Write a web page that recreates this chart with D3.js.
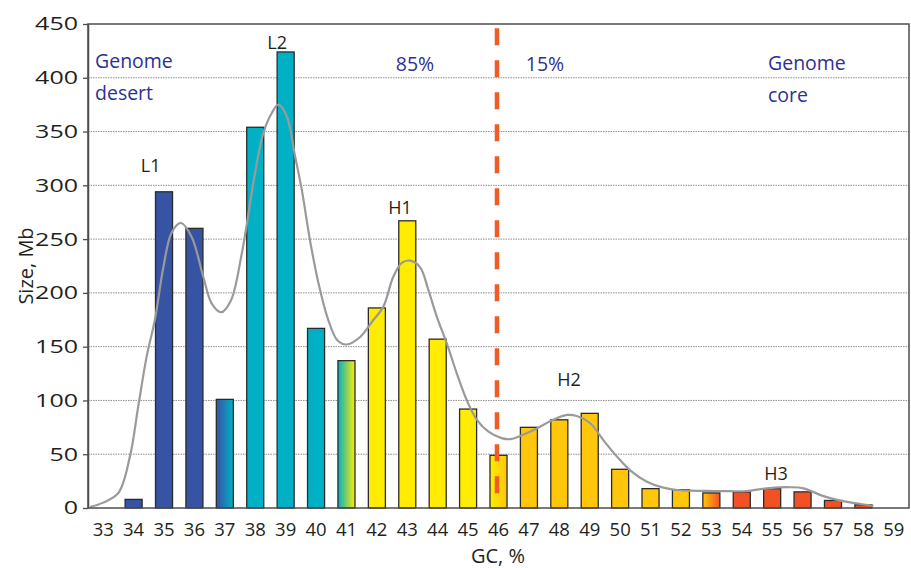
<!DOCTYPE html>
<html>
<head>
<meta charset="utf-8">
<script src="https://cdn.jsdelivr.net/npm/d3@7"></script>
<style>
  html, body { margin: 0; padding: 0; background: #fff; }
  svg { display: block; font-family: "Open Sans", "Noto Sans", sans-serif; }
</style>
</head>
<body>
<svg id="chart" width="911" height="568"></svg>
<script>
// GC content classes (%) along the x axis
const gcClasses = [33, 34, 35, 36, 37, 38, 39, 40, 41, 42, 43, 44, 45, 46,
                   47, 48, 49, 50, 51, 52, 53, 54, 55, 56, 57, 58, 59];
// Genome size in each GC class (Mb)
const sizeMb = [0, 8, 294, 260, 101, 354, 424, 167, 137, 186, 267, 157, 92, 49,
                75, 82, 88, 36, 18, 17, 14, 15, 18, 15, 7, 3, 0];
// Isochore family of each class ("A>B" marks a transition class)
const family = ["", "L1", "L1", "L1", "L1>L2", "L2", "L2", "L2", "L2>H1", "H1", "H1", "H1", "H1", "H1>H2",
                "H2", "H2", "H2", "H2", "H2", "H2", "H2>H3", "H3", "H3", "H3", "H3", "H3", ""];

// Smoothed distribution profile (GC %, Mb)
const curveGC = [32.57, 33.0, 33.5, 33.88, 34.15, 34.43, 34.7, 34.98, 35.25, 35.56, 35.91, 36.29, 36.57, 36.88,
                 37.2, 37.56, 37.99, 38.27, 38.54, 38.76, 39.04, 39.31, 39.53, 39.8, 40.08, 40.4, 40.7, 41.0,
                 41.45, 41.89, 42.21, 42.54, 42.82, 43.09, 43.42, 43.69, 43.97, 44.3, 44.63, 44.96, 45.29,
                 45.67, 46.1, 46.4, 46.71, 47.26, 47.8, 48.25, 48.57, 49.01, 49.45, 49.89, 50.33, 50.88,
                 51.42, 51.97, 52.5, 53.07, 53.6, 54.17, 54.82, 55.59, 56.03, 56.69, 57.24, 57.9, 58.33];
const curveSize = [1, 5, 14, 48, 94, 141, 175, 224, 256, 265, 252, 215, 190, 182,
                   193, 237, 311, 349, 367, 375, 364, 327, 296, 249, 209, 175, 156, 152,
                   159, 175, 187, 215, 228, 230, 224, 203, 178, 153, 125, 100, 82,
                   71, 65, 64, 67, 74, 82, 86.5, 85.6, 79, 63, 48, 35, 24.5,
                   19, 16.5, 16, 15.8, 15.6, 15.8, 18.3, 19.3, 18.3, 11, 6.8, 3.7, 2];

const yTicks = [0, 50, 100, 150, 200, 250, 300, 350, 400, 450];

// Peak labels
const peakNames = ["L1", "L2", "H1", "H2", "H3"];
const peakGC = [34.56, 38.72, 42.76, 48.32, 55.13];
const peakAt = [312, 427, 273, 113, 26];

// Region annotations
const regionText = ["Genome", "desert", "85%", "15%", "Genome", "core"];
const splitGC = 45.95;

// ---- styles ----
const familyColor = {
  L1: "#3653a4", L2: "#00b1c6", H1: "#ffec00", H2: "#ffc60b", H3: "#f15124"
};
const noteColor = "#2e3192";
const inkColor = "#231f20";

const W = 911, H = 568;
const margin = { left: 88, right: 2, top: 24, bottom: 60 };
const x0 = margin.left, x1 = W - margin.right;
const y0 = H - margin.bottom, y1 = margin.top;

const svg = d3.select("#chart");
const defs = svg.append("defs");

const x = d3.scaleBand().domain(gcClasses).range([x0, x1])
  .paddingInner(0.44).paddingOuter(0.22);
const xLin = d3.scaleLinear().domain([32.5, 59.5]).range([x0, x1]);
const y = d3.scaleLinear().domain([0, 450]).range([y0, y1]);

// gradients for transition classes
family.forEach((f, i) => {
  if (f.includes(">")) {
    const [a, b] = f.split(">");
    const g = defs.append("linearGradient").attr("id", "grad" + i)
      .attr("x1", "0%").attr("x2", "100%").attr("y1", "0%").attr("y2", "0%");
    g.append("stop").attr("offset", "0%").attr("stop-color", familyColor[a]);
    g.append("stop").attr("offset", "100%").attr("stop-color", familyColor[b]);
  }
});
function fillFor(i) {
  const f = family[i];
  if (!f) return "none";
  return f.includes(">") ? `url(#grad${i})` : familyColor[f];
}

// horizontal gridlines
svg.append("g").selectAll("line")
  .data(yTicks.filter(t => t > 0 && t < 450))
  .join("line")
  .attr("x1", x0).attr("x2", x1)
  .attr("y1", d => y(d)).attr("y2", d => y(d))
  .attr("stroke", "#8f8f8f").attr("stroke-width", 1)
  .attr("stroke-dasharray", "1.5,1");

// bars
const rows = gcClasses.map((gc, i) => ({ gc, v: sizeMb[i], i }));
svg.append("g").selectAll("rect")
  .data(rows.filter(d => d.v > 0))
  .join("rect")
  .attr("x", d => x(d.gc))
  .attr("width", x.bandwidth())
  .attr("y", d => y(d.v))
  .attr("height", d => y(0) - y(d.v))
  .attr("fill", d => fillFor(d.i))
  .attr("stroke", "#2b2b2b").attr("stroke-width", 1.3);

// smoothed profile
const line = d3.line()
  .x((d, i) => xLin(curveGC[i]))
  .y(d => y(d))
  .curve(d3.curveCatmullRom.alpha(0.5));
svg.append("path")
  .attr("d", line(curveSize))
  .attr("fill", "none")
  .attr("stroke", "#9a9a9a").attr("stroke-width", 2.2);

// plot frame
svg.append("rect")
  .attr("x", x0).attr("y", y1)
  .attr("width", x1 - x0).attr("height", y0 - y1)
  .attr("fill", "none").attr("stroke", "#4d4d4d").attr("stroke-width", 1.5);

// divider between desert and core
svg.append("line")
  .attr("x1", xLin(splitGC)).attr("x2", xLin(splitGC))
  .attr("y1", y(446)).attr("y2", y(12))
  .attr("stroke", "#f15a29").attr("stroke-width", 4.5)
  .attr("stroke-dasharray", "17,15");

// y axis
const yAxis = svg.append("g")
  .attr("transform", `translate(${x0},0)`)
  .call(d3.axisLeft(y).tickValues(yTicks).tickSize(5).tickSizeOuter(0).tickPadding(5));
yAxis.select(".domain").attr("stroke", "#4d4d4d").attr("stroke-width", 1.5);
yAxis.selectAll(".tick line").attr("stroke", "#4d4d4d").attr("stroke-width", 1.3);
yAxis.selectAll(".tick text")
  .attr("font-size", 18.5).attr("fill", inkColor)
  .attr("font-family", "Open Sans, sans-serif")
  .attr("textLength", d => String(d).length * 14.3)
  .attr("lengthAdjust", "spacingAndGlyphs");

// x axis
const xAxis = svg.append("g")
  .attr("transform", `translate(0,${y0})`)
  .call(d3.axisBottom(x).tickSize(0).tickPadding(15));
xAxis.select(".domain").remove();
xAxis.selectAll(".tick text")
  .attr("font-size", 18.5).attr("fill", inkColor)
  .attr("font-family", "Open Sans, sans-serif");

// axis titles
svg.append("text")
  .attr("x", 498).attr("y", 563)
  .attr("text-anchor", "middle")
  .attr("font-size", 20).attr("fill", inkColor)
  .text("GC, %");
svg.append("text")
  .attr("transform", `translate(33,266) rotate(-90)`)
  .attr("text-anchor", "middle")
  .attr("font-size", 20).attr("fill", inkColor)
  .text("Size, Mb");

// peak labels
svg.append("g").selectAll("text")
  .data(peakNames)
  .join("text")
  .attr("x", (d, i) => xLin(peakGC[i]))
  .attr("y", (d, i) => y(peakAt[i]))
  .attr("text-anchor", "middle")
  .attr("font-size", 18).attr("fill", inkColor)
  .text(d => d);

// region notes
const notes = svg.append("g").attr("fill", noteColor).attr("font-size", 19.5);
notes.append("text").attr("x", 95).attr("y", 68).text(regionText[0]);
notes.append("text").attr("x", 95).attr("y", 100).text(regionText[1]);
notes.append("text").attr("x", 415).attr("y", 71).attr("text-anchor", "middle").text(regionText[2]);
notes.append("text").attr("x", 545).attr("y", 71).attr("text-anchor", "middle").text(regionText[3]);
notes.append("text").attr("x", 768).attr("y", 70).text(regionText[4]);
notes.append("text").attr("x", 768).attr("y", 102).text(regionText[5]);
</script>
</body>
</html>
